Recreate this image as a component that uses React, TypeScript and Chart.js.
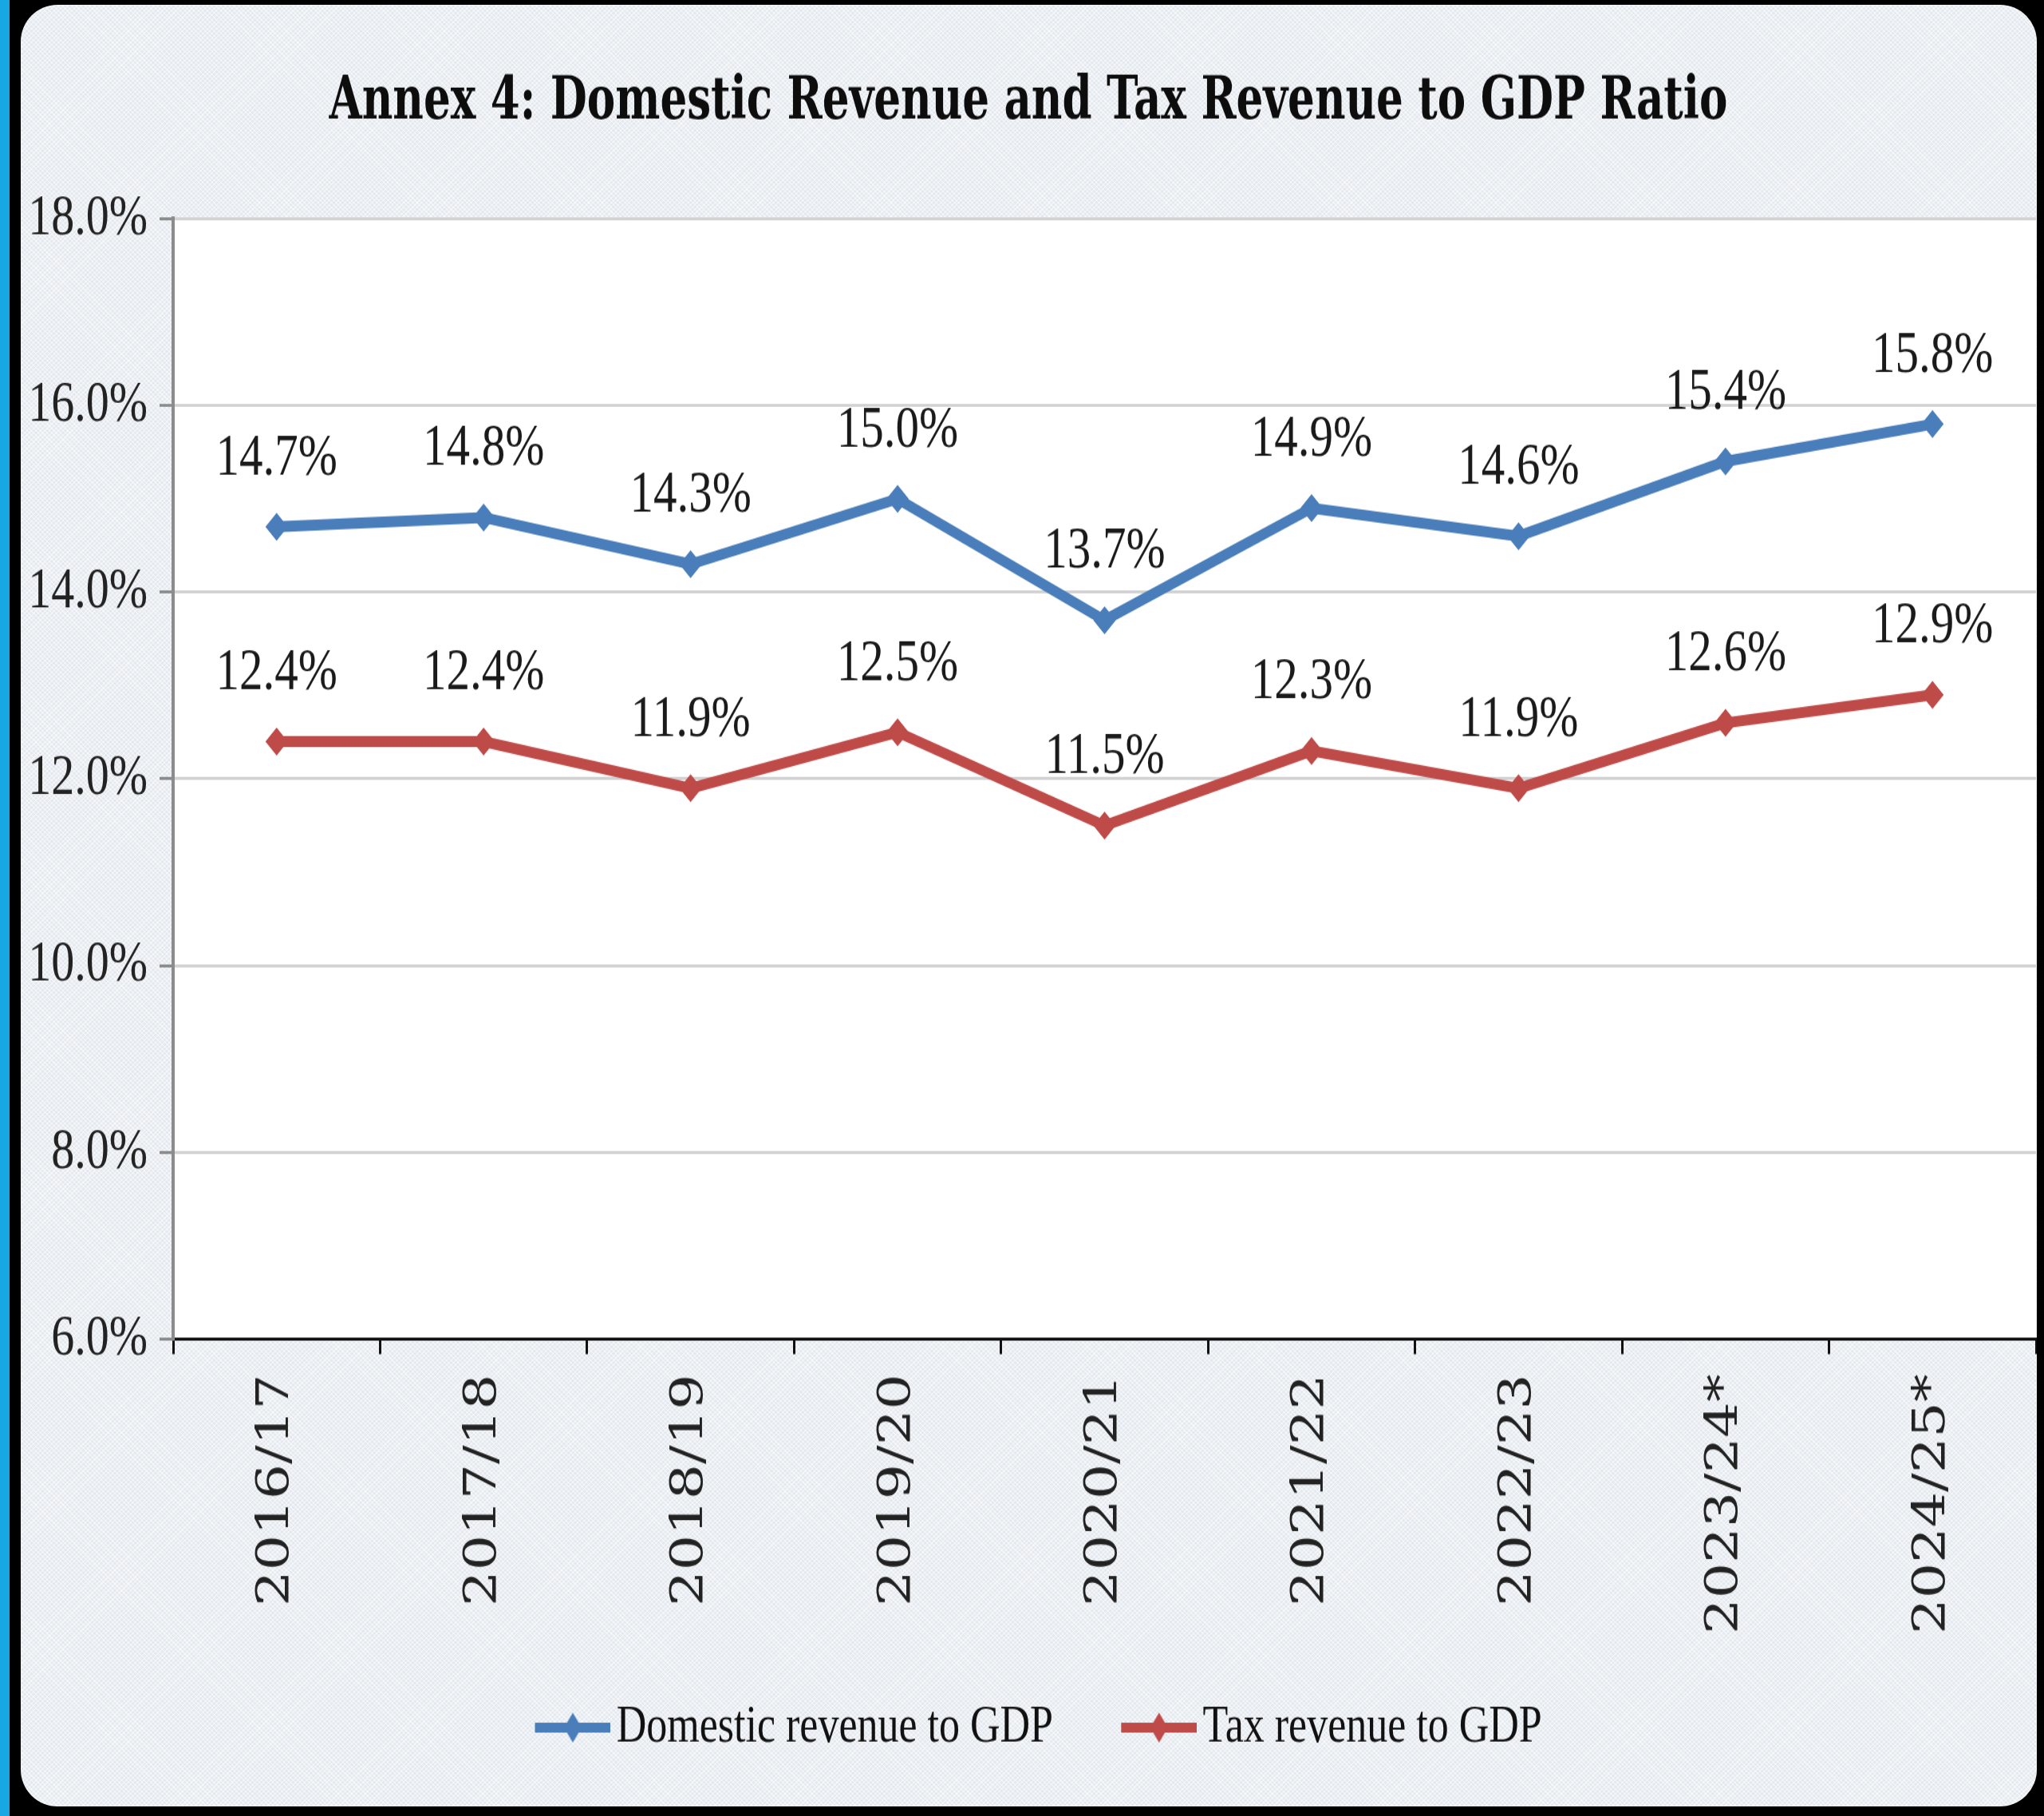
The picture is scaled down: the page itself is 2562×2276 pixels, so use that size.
import React, { useEffect, useRef } from 'react';
import { Chart, registerables } from 'chart.js';

Chart.register(...registerables);

// ---------- data ----------
const categories = ['2016/17', '2017/18', '2018/19', '2019/20', '2020/21', '2021/22', '2022/23', '2023/24*', '2024/25*'];
const domesticRevenue = [14.7, 14.8, 14.3, 15.0, 13.7, 14.9, 14.6, 15.4, 15.8];
const taxRevenue = [12.4, 12.4, 11.9, 12.5, 11.5, 12.3, 11.9, 12.6, 12.9];
const seriesNames = ['Domestic revenue to GDP', 'Tax revenue to GDP'];
const yMin = 6;
const yMax = 18;
const yStep = 2;
const titleText = 'Annex 4: Domestic Revenue and Tax Revenue to GDP Ratio';

// ---------- styles ----------
const BLUE = '#4a7ebb';
const RED = '#be4b48';
const SERIF = "'Liberation Serif', 'Times New Roman', serif";
const CANVAS_W = 2527;
const CSS_H = 2258;
const CANVAS_H = 1806;

function legendMarker(color: string): HTMLCanvasElement {
  const c = document.createElement('canvas');
  c.width = 139;
  c.height = 34;
  const g = c.getContext('2d')!;
  g.strokeStyle = color;
  g.lineWidth = 10;
  g.beginPath();
  g.moveTo(44, 17);
  g.lineTo(139, 17);
  g.stroke();
  g.fillStyle = color;
  const cx = 91.5;
  g.beginPath();
  g.moveTo(cx, 2);
  g.lineTo(cx + 11, 17);
  g.lineTo(cx, 32);
  g.lineTo(cx - 11, 17);
  g.closePath();
  g.fill();
  return c;
}

const plotBackground = {
  id: 'plotBackground',
  beforeDraw(chart: any) {
    const { ctx, chartArea: a } = chart;
    ctx.save();
    ctx.fillStyle = '#ffffff';
    ctx.fillRect(a.left, a.top, a.right - a.left, a.bottom - a.top);
    ctx.restore();
  },
};

const valueLabels = {
  id: 'valueLabels',
  afterDatasetsDraw(chart: any) {
    const { ctx } = chart;
    ctx.save();
    ctx.font = `59px ${SERIF}`;
    ctx.fillStyle = '#1a1a1a';
    ctx.textAlign = 'center';
    ctx.textBaseline = 'middle';
    chart.data.datasets.forEach((ds: any, i: number) => {
      const meta = chart.getDatasetMeta(i);
      meta.data.forEach((pt: any, j: number) => {
        ctx.fillText(Number(ds.data[j]).toFixed(1) + '%', pt.x, pt.y - 68);
      });
    });
    ctx.restore();
  },
};

export default function App() {
  const ref = useRef<HTMLCanvasElement>(null);

  useEffect(() => {
    if (!ref.current) return;
    const markers = [legendMarker(BLUE), legendMarker(RED)];
    const chart = new Chart(ref.current, {
      type: 'line',
      data: {
        labels: categories,
        datasets: [
          {
            label: seriesNames[0],
            data: domesticRevenue,
            borderColor: BLUE,
            backgroundColor: BLUE,
            borderWidth: 11,
            pointStyle: 'rectRot',
            pointRadius: 14,
            pointBorderWidth: 0,
            pointBackgroundColor: BLUE,
            tension: 0,
          },
          {
            label: seriesNames[1],
            data: taxRevenue,
            borderColor: RED,
            backgroundColor: RED,
            borderWidth: 11,
            pointStyle: 'rectRot',
            pointRadius: 14,
            pointBorderWidth: 0,
            pointBackgroundColor: RED,
            tension: 0,
          },
        ],
      },
      options: {
        responsive: false,
        animation: false,
        devicePixelRatio: 1,
        layout: { autoPadding: false, padding: { top: 0, left: 0, right: 1, bottom: 43 } },
        plugins: {
          title: {
            display: true,
            text: titleText,
            color: '#0d0d0d',
            font: { family: "'DejaVu Serif Condensed', 'DejaVu Serif', serif", weight: 'bold', size: 59, lineHeight: 1.2 },
            padding: { top: 62.8, bottom: 80.8 },
          },
          legend: {
            position: 'bottom',
            labels: {
              usePointStyle: true,
              pointStyleWidth: 101.5,
              padding: 60,
              color: '#111111',
              font: { family: SERIF, size: 52 },
              generateLabels: (ch: any) => {
                const items = (Chart.defaults.plugins.legend.labels as any).generateLabels(ch);
                return items.map((it: any, i: number) => ({ ...it, pointStyle: markers[i] }));
              },
            },
          },
          tooltip: { enabled: false },
        },
        scales: {
          x: {
            offset: true,
            grid: {
              display: true,
              drawOnChartArea: false,
              drawTicks: true,
              tickLength: 15,
              tickColor: '#111111',
              tickWidth: 3,
              offset: true,
            },
            border: { display: true, color: '#111111', width: 3 },
            ticks: {
              autoSkip: false,
              minRotation: 90,
              maxRotation: 90,
              padding: 20,
              color: '#222222',
              font: { family: "'DejaVu Serif', serif", size: 56 },
            },
            afterFit: (s: any) => {
              s.height = 303.4;
              s.paddingLeft = 0;
              s.paddingRight = 0;
            },
          },
          y: {
            min: yMin,
            max: yMax,
            ticks: {
              stepSize: yStep,
              padding: 15,
              color: '#222222',
              font: { family: SERIF, size: 58 },
              callback: (v: any) => Number(v).toFixed(1) + '%',
            },
            grid: {
              color: '#d2d2d2',
              lineWidth: 3,
              tickColor: '#8c8c8c',
              tickLength: 17,
              tickWidth: 3,
            },
            border: { color: '#8c8c8c', width: 4 },
            afterFit: (s: any) => {
              s.width = 191;
            },
          },
        },
      },
      plugins: [plotBackground, valueLabels],
    } as any);
    return () => chart.destroy();
  }, []);

  return (
    <div style={{ position: 'absolute', left: 0, top: 0, width: 2562, height: 2276, background: '#000', overflow: 'hidden' }}>
      <div style={{ position: 'absolute', left: 0, top: 0, width: 12, height: 2276, background: '#17a8e3' }} />
      <div
        style={{
          position: 'absolute',
          left: 26,
          top: 6,
          width: CANVAS_W,
          height: CSS_H,
          borderRadius: 46,
          overflow: 'hidden',
          backgroundColor: '#e4e9ef',
          backgroundImage:
            'repeating-linear-gradient(45deg, rgba(255,255,255,0.45) 0px, rgba(255,255,255,0.45) 1.5px, transparent 1.5px, transparent 4px), repeating-linear-gradient(-45deg, rgba(255,255,255,0.45) 0px, rgba(255,255,255,0.45) 1.5px, transparent 1.5px, transparent 4px)',
        }}
      >
        <canvas ref={ref} width={CANVAS_W} height={CANVAS_H} style={{ display: 'block', width: CANVAS_W, height: CSS_H }} />
      </div>
    </div>
  );
}
